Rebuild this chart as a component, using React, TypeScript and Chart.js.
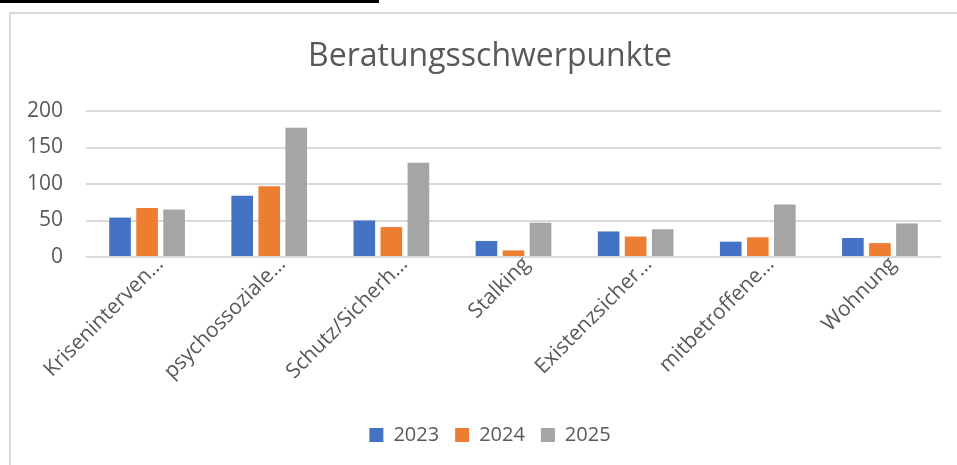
import React, { useEffect, useRef } from "react";
import { Chart, registerables } from "chart.js";

Chart.register(...registerables);

const categories = [
  "Kriseninterven…",
  "psychossoziale…",
  "Schutz/Sicherh…",
  "Stalking",
  "Existenzsicher…",
  "mitbetroffene…",
  "Wohnung",
];
const values2023 = [54, 84, 50, 22, 35, 21, 26];
const values2024 = [67, 97, 41, 9, 28, 27, 19];
const values2025 = [65, 177, 129, 47, 38, 72, 46];
const seriesLabels = ["2023", "2024", "2025"];
const yTicks = [0, 50, 100, 150, 200];

const FONT = "'Open Sans', 'DejaVu Sans', sans-serif";
const TEXT = "#595959";

export default function App() {
  const ref = useRef<HTMLCanvasElement | null>(null);

  useEffect(() => {
    if (!ref.current) return;
    const chart = new Chart(ref.current, {
      type: "bar",
      data: {
        labels: categories,
        datasets: [
          { label: seriesLabels[0], data: values2023, backgroundColor: "#4472C4" },
          { label: seriesLabels[1], data: values2024, backgroundColor: "#ED7D31" },
          { label: seriesLabels[2], data: values2025, backgroundColor: "#A5A5A5" },
        ],
      },
      options: {
        animation: false,
        responsive: false,
        maintainAspectRatio: false,
        datasets: { bar: { categoryPercentage: 0.664, barPercentage: 0.8 } },
        layout: { padding: { left: 20, right: 0, top: 0, bottom: 10 } },
        plugins: {
          title: {
            display: true,
            text: "Beratungsschwerpunkte",
            color: TEXT,
            font: { family: FONT, size: 32, weight: "normal" },
            padding: { top: 38, bottom: 34.6 },
          },
          legend: {
            position: "bottom",
            labels: {
              color: TEXT,
              font: { family: FONT, size: 20 },
              boxWidth: 14,
              boxHeight: 14,
              padding: 16,
            },
          },
          tooltip: { enabled: false },
        },
        scales: {
          x: {
            grid: { display: false },
            border: { display: false },
            ticks: {
              color: TEXT,
              font: { family: FONT, size: 21 },
              maxRotation: 45,
              minRotation: 45,
              autoSkip: false,
              labelOffset: 13,
              padding: -13,
            },
            afterFit: (s: any) => {
              s.height = 152;
            },
          },
          y: {
            min: 0,
            max: 200,
            afterBuildTicks: (s: any) => {
              s.ticks = yTicks.map((v) => ({ value: v }));
            },
            grid: { color: "#D9D9D9", lineWidth: 2, drawTicks: false },
            border: { display: false },
            ticks: {
              color: TEXT,
              font: { family: FONT, size: 21 },
              padding: 23,
            },
            afterFit: (s: any) => {
              s.width = 66;
            },
          },
          yRight: {
            axis: "y",
            type: "linear",
            position: "right",
            display: true,
            grid: { display: false, drawTicks: false },
            border: { display: false },
            ticks: { display: false },
            afterFit: (s: any) => {
              s.width = 19;
            },
          },
        },
      },
    });
    return () => chart.destroy();
  }, []);

  return (
    <div style={{ position: "fixed", left: 0, top: 0, width: 957, height: 465, overflow: "hidden", background: "#fff" }}>
      <div style={{ position: "absolute", left: 0, top: 0, width: 379, height: 3, background: "#000" }} />
      <div
        style={{
          position: "absolute",
          left: 9,
          top: 12,
          width: 1000,
          height: 500,
          borderLeft: "2px solid #D9D9D9",
          borderTop: "2px solid #D9D9D9",
        }}
      />
      <canvas ref={ref} width={960} height={465} style={{ position: "absolute", left: 0, top: 0 }} />
    </div>
  );
}
